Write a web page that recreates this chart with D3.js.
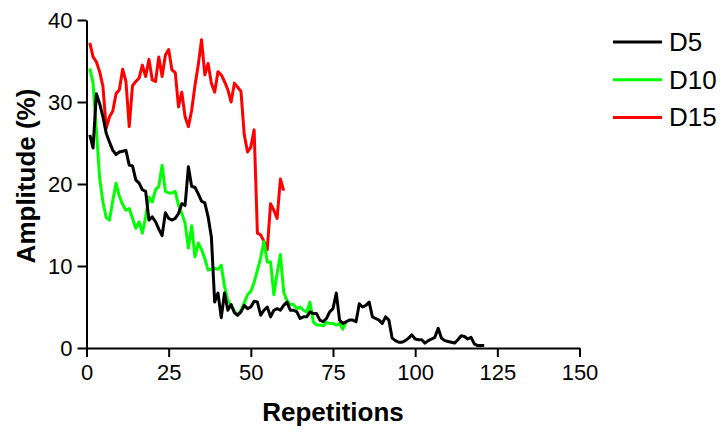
<!DOCTYPE html>
<html>
<head>
<meta charset="utf-8">
<script src="https://cdn.jsdelivr.net/npm/d3@7"></script>
<style>
  body { margin: 0; background: #fff; }
  svg { display: block; font-family: "Liberation Sans", Arial, sans-serif; }
</style>
</head>
<body>
<div id="chart-area"></div>
<script>
// amplitude (%) per repetition, repetition number = index + 1
let d5 = [26.0, 24.4, 31.0, 29.8, 28.2, 26.2, 25.1, 24.1, 23.6, 23.9,
  24.0, 24.1, 22.3, 22.2, 20.5, 20.1, 19.3, 19.1, 15.6, 16.0,
  15.4, 14.5, 13.7, 16.5, 15.8, 15.6, 15.8, 16.4, 17.6, 17.4,
  22.1, 19.7, 19.6, 18.8, 17.9, 17.7, 16.0, 13.5, 5.6, 6.7,
  3.7, 6.7, 4.6, 5.3, 4.3, 4.0, 4.4, 5.2, 4.8, 5.0,
  5.7, 5.6, 4.0, 4.6, 5.0, 3.8, 4.6, 4.8, 4.6, 5.2,
  5.6, 4.6, 4.6, 4.4, 3.6, 3.8, 3.8, 4.4, 4.2, 4.2,
  3.4, 3.2, 3.6, 4.4, 4.8, 6.7, 3.4, 3.0, 3.2, 3.4,
  3.4, 3.2, 5.4, 5.0, 5.2, 5.6, 3.8, 3.6, 3.4, 3.0,
  3.8, 3.4, 1.2, 0.9, 0.7, 0.7, 0.9, 1.2, 1.6, 1.1,
  1.0, 1.0, 0.6, 0.9, 1.1, 1.3, 2.4, 1.2, 0.9, 0.8,
  0.7, 0.6, 1.0, 1.5, 1.4, 1.1, 1.3, 0.5, 0.3, 0.3, 0.3]

let d10 = [34.1, 32.3, 26.6, 20.7, 17.8, 15.9, 15.6, 18.0, 20.1, 18.5,
  17.5, 16.8, 17.0, 15.8, 14.6, 15.4, 14.0, 16.0, 18.4, 17.8,
  19.3, 19.7, 22.3, 19.1, 18.9, 18.9, 19.1, 17.4, 16.4, 15.2,
  12.2, 14.9, 11.1, 12.8, 12.0, 10.9, 9.5, 9.6, 9.7, 9.6,
  10.1, 7.5, 5.8, 5.2, 4.5, 4.0, 4.6, 5.5, 6.5, 6.9,
  8.0, 9.5, 11.0, 13.0, 10.5, 10.5, 6.5, 9.1, 11.4, 6.8,
  5.8, 5.3, 5.3, 4.8, 5.0, 4.6, 4.4, 5.6, 3.2, 2.8,
  2.8, 2.7, 3.1, 3.0, 3.0, 2.8, 3.0, 2.3, 3.2]

let d15 = [37.2, 35.5, 34.9, 33.7, 31.9, 26.8, 28.2, 28.9, 31.0, 31.5,
  34.0, 32.5, 27.0, 32.0, 32.5, 32.9, 34.5, 33.1, 35.2, 32.7,
  32.5, 35.5, 33.1, 35.7, 36.4, 33.9, 33.6, 29.4, 31.2, 28.2,
  27.0, 29.0, 32.0, 34.5, 37.6, 33.3, 34.7, 32.3, 31.2, 33.7,
  33.3, 32.5, 31.5, 30.0, 32.3, 31.8, 31.3, 26.0, 23.9, 24.5,
  26.6, 14.0, 13.8, 13.0, 12.0, 17.6, 16.8, 15.8, 20.6, 19.2]

let seriesNames = ["D5", "D10", "D15"]
let seriesColors = ["#000000", "#00ff00", "#ff0000"]
let xTicks = [0, 25, 50, 75, 100, 125, 150]
let yTicks = [0, 10, 20, 30, 40]

let series = [d5, d10, d15].map((vals, i) => ({
  name: seriesNames[i],
  color: seriesColors[i],
  points: vals.map((v, j) => ({rep: j + 1, amp: v}))
}))

let width = 722, height = 433

let svg = d3.select("#chart-area").append("svg")
  .attr("width", width)
  .attr("height", height)

let x = d3.scaleLinear().domain([0, 150]).range([86.5, 579.5])
let y = d3.scaleLinear().domain([0, 40]).range([348, 20])

// axes
let yAxis = svg.append("g")
  .attr("transform", "translate(86.5, 0)")
  .call(d3.axisLeft(y).tickValues(yTicks).tickSize(9).tickSizeOuter(0).tickPadding(5))
let xAxis = svg.append("g")
  .attr("transform", "translate(0, 348)")
  .call(d3.axisBottom(x).tickValues(xTicks).tickSize(9).tickSizeOuter(0).tickPadding(7))

svg.selectAll(".domain, .tick line")
  .attr("stroke", "#000")
  .attr("stroke-width", 2)
svg.selectAll(".tick text")
  .attr("fill", "#000")
  .attr("font-size", "22px")
  .attr("font-family", "Liberation Sans, Arial, sans-serif")

// axis titles
svg.append("text")
  .attr("x", 333)
  .attr("y", 421)
  .attr("text-anchor", "middle")
  .attr("font-size", "26px")
  .attr("font-weight", "bold")
  .text("Repetitions")

svg.append("text")
  .attr("transform", "rotate(-90)")
  .attr("x", -176)
  .attr("y", 35)
  .attr("text-anchor", "middle")
  .attr("font-size", "26px")
  .attr("font-weight", "bold")
  .text("Amplitude (%)")

// lines
let line = d3.line()
  .x(d => x(d.rep))
  .y(d => y(d.amp))

svg.selectAll(".series")
  .data(series.slice().reverse())
  .enter()
  .append("path")
    .attr("class", "series")
    .attr("d", d => line(d.points))
    .attr("fill", "none")
    .attr("stroke", d => d.color)
    .attr("stroke-width", 3)
    .attr("stroke-linejoin", "round")

// legend
let legend = svg.selectAll(".legend")
  .data(series)
  .enter()
  .append("g")
    .attr("class", "legend")
    .attr("transform", (d, i) => "translate(613, " + (42 + i * 37.7) + ")")

legend.append("line")
  .attr("x1", 0)
  .attr("x2", 49)
  .attr("stroke", d => d.color)
  .attr("stroke-width", 3)

legend.append("text")
  .attr("x", 56)
  .attr("y", 9)
  .attr("font-size", "26px")
  .text(d => d.name)
</script>
</body>
</html>
